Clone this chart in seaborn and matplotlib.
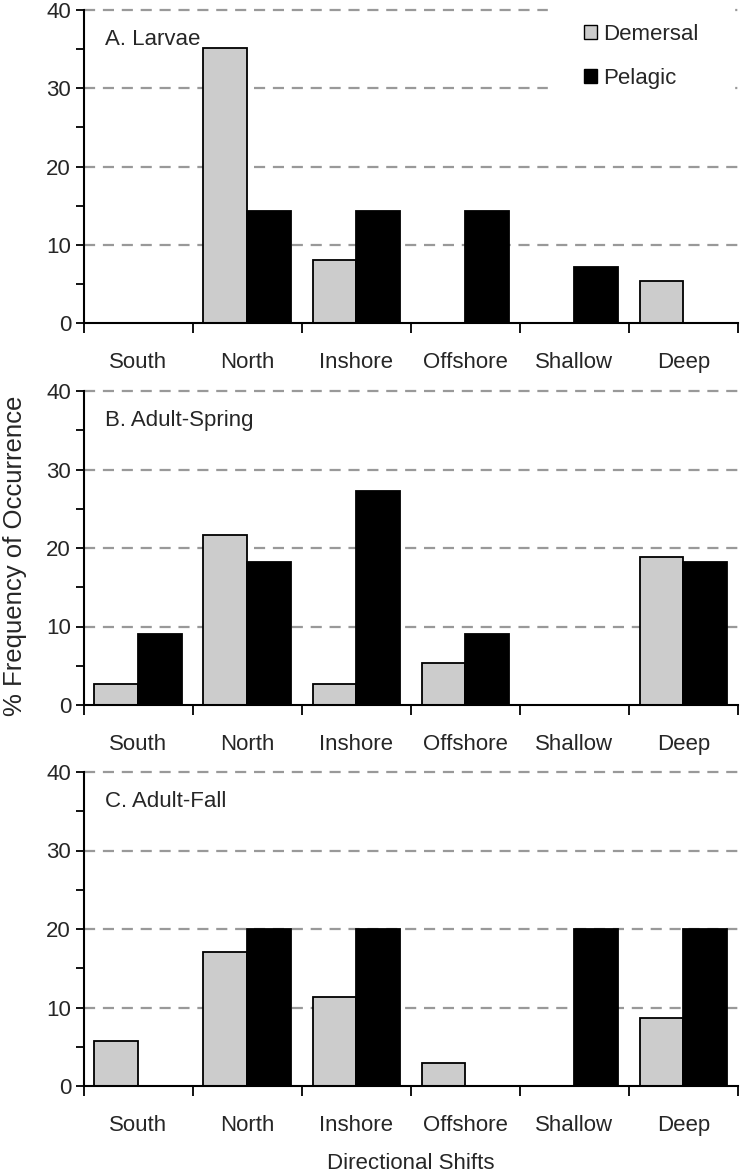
import numpy as np
import pandas as pd
import matplotlib
matplotlib.use("Agg")
import matplotlib.pyplot as plt
from matplotlib.ticker import MultipleLocator, FixedLocator
import seaborn as sns

# ---- data ----
directions = ["South", "North", "Inshore", "Offshore", "Shallow", "Deep"]
groups = ["Demersal", "Pelagic"]
panel_titles = ["A. Larvae", "B. Adult-Spring", "C. Adult-Fall"]

larvae_demersal = [0, 35.1, 8.1, 0, 0, 5.4]
larvae_pelagic = [0, 14.3, 14.3, 14.3, 7.1, 0]
spring_demersal = [2.7, 21.6, 2.7, 5.4, 0, 18.9]
spring_pelagic = [9.1, 18.2, 27.3, 9.1, 0, 18.2]
fall_demersal = [5.7, 17.1, 11.4, 2.9, 0, 8.6]
fall_pelagic = [0, 20, 20, 0, 20, 20]

y_ticks = [0, 10, 20, 30, 40]
x_label = "Directional Shifts"
y_label = "% Frequency of Occurrence"

panels = [
    (larvae_demersal, larvae_pelagic),
    (spring_demersal, spring_pelagic),
    (fall_demersal, fall_pelagic),
]

sns.set_theme(style="white")
plt.rcParams["font.family"] = ["Liberation Sans", "DejaVu Sans"]

W, H = 742, 1174
fig = plt.figure(figsize=(W / 100, H / 100), dpi=100)

left_px, right_px = 83.5, 738
tops = [10, 391, 772]
zeros = [323, 705, 1086]

palette = {"Demersal": "#cccccc", "Pelagic": "#000000"}

for i, ((dem, pel), title) in enumerate(zip(panels, panel_titles)):
    ax = fig.add_axes([left_px / W, (H - zeros[i]) / H,
                       (right_px - left_px) / W, (zeros[i] - tops[i]) / H])
    df = pd.DataFrame({
        "Direction": directions * 2,
        "Value": list(dem) + list(pel),
        "Type": ["Demersal"] * len(directions) + ["Pelagic"] * len(directions),
    })
    sns.barplot(data=df, x="Direction", y="Value", hue="Type",
                order=directions, hue_order=groups, palette=palette,
                width=0.8, edgecolor="black", linewidth=1.3,
                saturation=1, ax=ax, legend=(i == 0), zorder=3)
    ax.set_xlim(-0.5, 5.5)
    ax.set_ylim(0, 40)
    ax.set_yticks(y_ticks)
    ax.yaxis.set_minor_locator(MultipleLocator(5))
    ax.xaxis.set_minor_locator(FixedLocator(np.arange(-0.5, 6.0, 1.0)))
    ax.tick_params(axis="y", which="both", direction="out", length=6,
                   width=1.3, color="black", labelsize=16, pad=3, left=True)
    ax.tick_params(axis="x", which="major", length=0, labelsize=16, pad=21)
    ax.tick_params(axis="x", which="minor", direction="out", length=7,
                   width=1.3, color="black", bottom=True)
    for yv in y_ticks[1:]:
        ax.axhline(yv, color="#999999", lw=1.6, ls=(0, (5, 3.5)), zorder=1,
                   clip_on=False)
    for s in ["top", "right"]:
        ax.spines[s].set_visible(False)
    for s in ["left", "bottom"]:
        ax.spines[s].set_color("black")
        ax.spines[s].set_linewidth(1.5)
        ax.spines[s].set_zorder(5)
    ax.set_xlabel("")
    ax.set_ylabel("")
    ax.text((105 - left_px) / (right_px - left_px), 36.2, title,
            transform=ax.get_yaxis_transform(), fontsize=16,
            ha="left", va="center", zorder=6)
    ax.set_facecolor("white")
    if i == 0:
        leg = ax.legend(loc="upper left",
                        bbox_to_anchor=(548 / W, 1 + 12 / H),
                        bbox_transform=fig.transFigure,
                        frameon=True, fontsize=16, handlelength=0.62,
                        handleheight=0.62, handletextpad=0.25,
                        labelspacing=1.05, borderpad=1.6, borderaxespad=0.0,
                        fancybox=False)
        leg.get_frame().set_facecolor("white")
        leg.get_frame().set_edgecolor("white")
        leg.get_frame().set_alpha(1)
        leg.set_zorder(10)
        for h in leg.legend_handles:
            h.set_edgecolor("black")
            h.set_linewidth(1.0)

fig.text(411 / W, 1 - 1169 / H, x_label, fontsize=16,
         ha="center", va="baseline")
fig.text(15 / W, 1 - 556 / H, y_label, rotation=90, fontsize=18.5,
         ha="center", va="center")

fig.savefig("out.png", dpi=100, facecolor="white")
